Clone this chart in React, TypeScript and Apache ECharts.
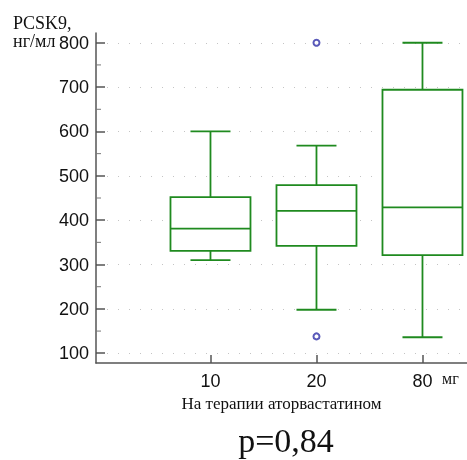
import React, { useEffect, useRef } from "react";
import * as echarts from "echarts";

const categories = ["10", "20", "80"];
const positions = [1, 2, 3];
const mins = [310, 198, 136];
const q1s = [331, 342, 321];
const medians = [381, 421, 429];
const q3s = [452, 479, 694];
const maxs = [600, 568, 800];
const outliers: [number, number][] = [
  [2, 800],
  [2, 138],
];
const yTicks = [100, 200, 300, 400, 500, 600, 700, 800];
const yMinorTicks = [150, 250, 350, 450, 550, 650, 750];

const GREEN = "#1f8a1f";
const AXIS = "#555555";
const X_MIN = -0.08;

export default function App() {
  const ref = useRef<HTMLDivElement>(null);
  useEffect(() => {
    if (!ref.current) return;
    const chart = echarts.init(ref.current, null, { renderer: "svg" });
    const boxData = positions.map((p, i) => [p, mins[i], q1s[i], medians[i], q3s[i], maxs[i]]);
    chart.setOption({
      animation: false,
      grid: { left: 96, right: 0, top: 33, bottom: 97 },
      xAxis: {
        type: "value",
        min: X_MIN,
        max: 3.42,
        name: "На терапии аторвастатином",
        nameLocation: "middle",
        nameGap: 24,
        nameTextStyle: { fontFamily: "Liberation Serif", fontSize: 17, color: "#111" },
        axisLine: { show: true, onZero: false, lineStyle: { color: AXIS, width: 1.5 } },
        axisTick: { show: true, inside: true, length: 8, customValues: positions, lineStyle: { color: AXIS, width: 1.5 } },
        axisLabel: {
          customValues: positions,
          formatter: (v: number) => categories[Math.round(v) - 1] ?? "",
          fontFamily: "Liberation Sans",
          fontSize: 18,
          color: "#111",
          margin: 9,
        },
        splitLine: { show: false },
      },
      yAxis: {
        type: "value",
        min: 78,
        max: 822,
        position: "left",
        axisLine: { show: true, onZero: false, lineStyle: { color: AXIS, width: 1.5 } },
        axisTick: { show: true, inside: true, length: 9, customValues: yTicks, lineStyle: { color: AXIS, width: 1.5 } },
        axisLabel: {
          customValues: yTicks,
          fontFamily: "Liberation Sans",
          fontSize: 18,
          color: "#111",
          margin: 7,
        },
        splitLine: { show: true, lineStyle: { color: "#c4c4c4", type: [1, 10], width: 1 } },
      },
      series: [
        {
          type: "custom",
          data: boxData,
          renderItem: (params: any, api: any) => {
            const x = api.value(0);
            const pMin = api.coord([x, api.value(1)]);
            const pQ1 = api.coord([x, api.value(2)]);
            const pMed = api.coord([x, api.value(3)]);
            const pQ3 = api.coord([x, api.value(4)]);
            const pMax = api.coord([x, api.value(5)]);
            const half = 40;
            const cap = 20;
            const cx = pMed[0];
            const style = { stroke: GREEN, lineWidth: 1.8, fill: "none" };
            return {
              type: "group",
              children: [
                { type: "rect", shape: { x: cx - half, y: pQ3[1], width: half * 2, height: pQ1[1] - pQ3[1] }, style: { stroke: GREEN, lineWidth: 1.8, fill: "#fff" } },
                { type: "line", shape: { x1: cx - half, y1: pMed[1], x2: cx + half, y2: pMed[1] }, style },
                { type: "line", shape: { x1: cx, y1: pQ3[1], x2: cx, y2: pMax[1] }, style },
                { type: "line", shape: { x1: cx, y1: pQ1[1], x2: cx, y2: pMin[1] }, style },
                { type: "line", shape: { x1: cx - cap, y1: pMax[1], x2: cx + cap, y2: pMax[1] }, style },
                { type: "line", shape: { x1: cx - cap, y1: pMin[1], x2: cx + cap, y2: pMin[1] }, style },
              ],
            };
          },
        },
        {
          type: "custom",
          data: yMinorTicks.map((v) => [v]),
          clip: false,
          silent: true,
          renderItem: (params: any, api: any) => {
            const yv = api.value(0);
            const p = api.coord([X_MIN, yv]);
            return {
              type: "line",
              shape: { x1: p[0], y1: p[1], x2: p[0] + 5, y2: p[1] },
              style: { stroke: "#777", lineWidth: 1 },
            };
          },
          encode: { y: 0 },
        },
        {
          type: "scatter",
          data: outliers,
          symbol: "emptyCircle",
          symbolSize: 6,
          itemStyle: { color: "#3030a8", borderColor: "#3030a8", borderWidth: 1 },
        },
      ],
      graphic: [
        { type: "text", left: 13, top: 14, style: { text: "PCSK9,", fontFamily: "Liberation Serif", fontSize: 18, fill: "#111" } },
        { type: "text", left: 13, top: 32, style: { text: "нг/мл", fontFamily: "Liberation Serif", fontSize: 18, fill: "#111" } },
        { type: "text", left: 442, top: 370.5, style: { text: "мг", fontFamily: "Liberation Serif", fontSize: 16, fill: "#111" } },
        { type: "text", x: 286, y: 440, style: { text: "p=0,84", fontFamily: "Liberation Serif", fontSize: 34, fill: "#111", align: "center", verticalAlign: "middle" } },
      ],
    });
    return () => chart.dispose();
  }, []);
  return <div ref={ref} style={{ position: "fixed", left: 0, top: 0, width: 467, height: 460 }} />;
}
